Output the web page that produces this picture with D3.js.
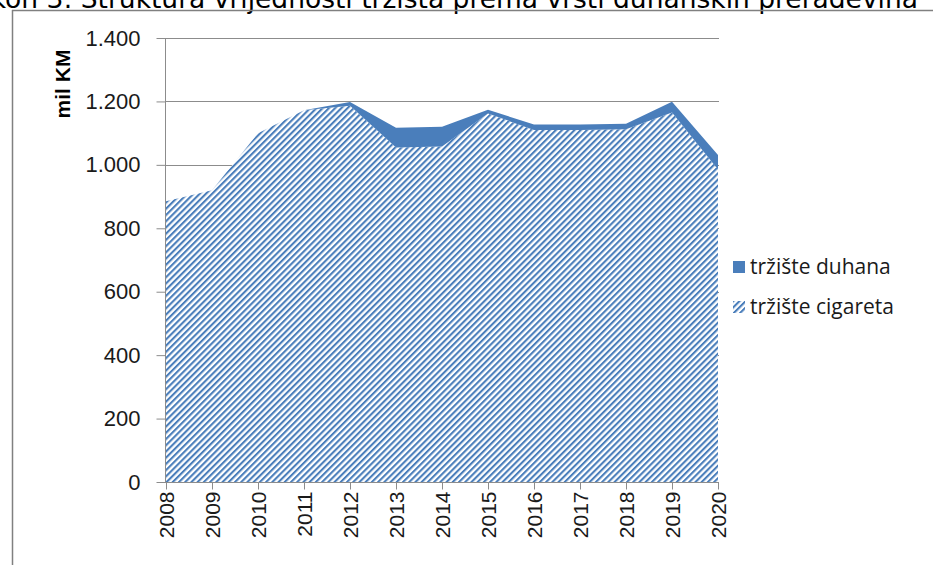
<!DOCTYPE html>
<html><head><meta charset="utf-8">
<script src="https://cdn.jsdelivr.net/npm/d3@7"></script>
<style>body{margin:0;background:#fff;overflow:hidden}svg{display:block}</style>
</head><body>
<script>
const years = ["2008","2009","2010","2011","2012","2013","2014","2015","2016","2017","2018","2019","2020"];
const cigarete = [885, 920, 1100, 1172, 1186, 1055, 1058, 1162, 1110, 1110, 1112, 1165, 985];
const duhan = [0, 0, 0, 0, 12, 62, 62, 12, 17, 17, 18, 34, 46];
const yTicks = [0, 200, 400, 600, 800, 1000, 1200, 1400];
const seriesNames = ["tržište duhana", "tržište cigareta"];
const title = "Grafikon 3: Struktura vrijednosti tržišta prema vrsti duhanskih prerađevina";

const W = 933, H = 565;
const svg = d3.select("body").append("svg").attr("width", W).attr("height", H);
const blue = "#4a7ebb";

const defs = svg.append("defs");
const pat = defs.append("pattern").attr("id","hatch").attr("patternUnits","userSpaceOnUse")
  .attr("width",4.4).attr("height",4.4).attr("patternTransform","rotate(45)");
pat.append("rect").attr("width",4.4).attr("height",4.4).attr("fill","#fff");
pat.append("rect").attr("x",0).attr("width",2.1).attr("height",4.4).attr("fill",blue);

// title (clipped at top/left like reference)
svg.append("text").attr("x", 918).attr("y", 8).attr("text-anchor","end")
  .attr("font-family","DejaVu Sans, Verdana, sans-serif").attr("font-size",26.5).attr("fill","#000")
  .text(title);
// frame
svg.append("line").attr("x1",12).attr("x2",W).attr("y1",10.5).attr("y2",10.5).attr("stroke","#808080").attr("stroke-width",1.5);
svg.append("line").attr("x1",12.5).attr("x2",12.5).attr("y1",10).attr("y2",H).attr("stroke","#808080").attr("stroke-width",1.5);

const x = d3.scalePoint().domain(years).range([166, 718]);
const y = d3.scaleLinear().domain([0,1400]).range([482, 38]);

// gridlines
svg.append("g").selectAll("line").data(yTicks.filter(d=>d>0)).join("line")
  .attr("x1",166).attr("x2",719).attr("y1",d=>Math.round(y(d))+0.5).attr("y2",d=>Math.round(y(d))+0.5)
  .attr("stroke","#8c8c8c").attr("stroke-width",1);

const data = years.map((yr,i)=>({yr, c: cigarete[i], d: duhan[i]}));
const areaC = d3.area().x(d=>x(d.yr)).y0(y(0)).y1(d=>y(d.c));
const areaD = d3.area().x(d=>x(d.yr)).y0(d=>y(d.c)).y1(d=>y(d.c+d.d));
svg.append("path").datum(data).attr("d",areaC).attr("fill","url(#hatch)");
svg.append("path").datum(data).attr("d",areaD).attr("fill",blue);

// y axis
const yAxis = d3.axisLeft(y).tickValues(yTicks).tickSize(9).tickPadding(16)
  .tickFormat(d=> d3.format(",")(d).replace(/,/g,"."));
const gy = svg.append("g").attr("transform","translate(165.5,0)").call(yAxis);
gy.select(".domain").attr("stroke","#8c8c8c").attr("d","M0,38V482");
gy.selectAll(".tick line").attr("stroke","#8c8c8c");
gy.selectAll("text").attr("font-family","Liberation Sans, Arial, sans-serif").attr("font-size",22).attr("fill","#1a1a1a");

// x axis
const xAxis = d3.axisBottom(x).tickSize(7).tickPadding(6);
const gx = svg.append("g").attr("transform","translate(0,482.5)").call(xAxis);
gx.select(".domain").attr("stroke","#8c8c8c").attr("d","M165,0H719");
gx.selectAll(".tick line").attr("stroke","#8c8c8c");
gx.selectAll("text").attr("font-family","Liberation Sans, Arial, sans-serif").attr("font-size",21).attr("fill","#1a1a1a")
  .attr("transform","rotate(-90)").attr("text-anchor","end").attr("dy","0.35em").attr("x",-9).attr("y",0);

// y title
svg.append("text").attr("transform","translate(70,84) rotate(-90)").attr("text-anchor","middle")
  .attr("font-family","Liberation Sans, Arial, sans-serif").attr("font-weight","bold").attr("font-size",21).attr("fill","#000")
  .text("mil KM");

// legend
const lg = svg.append("g").attr("font-family","Open Sans, Noto Sans, sans-serif").attr("font-size",21).attr("fill","#1a1a1a");
lg.append("rect").attr("x",733).attr("y",261).attr("width",12).attr("height",12).attr("fill",blue);
lg.append("text").attr("x",750).attr("y",274).text(seriesNames[0]);
lg.append("rect").attr("x",733).attr("y",301).attr("width",12).attr("height",12).attr("fill","url(#hatch)");
lg.append("text").attr("x",750).attr("y",314).text(seriesNames[1]);
</script>
</body></html>
